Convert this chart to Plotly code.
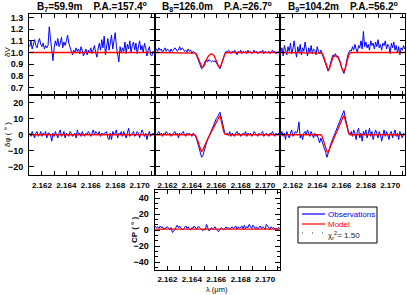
import plotly.graph_objects as go

wavelength = [
    2.1610, 2.1611, 2.1612, 2.1613, 2.1614, 2.1615, 2.1616, 2.1617, 2.1618, 2.1619,
    2.1620, 2.1621, 2.1622, 2.1623, 2.1624, 2.1625, 2.1626, 2.1627, 2.1628, 2.1629,
    2.1630, 2.1631, 2.1632, 2.1633, 2.1634, 2.1635, 2.1636, 2.1637, 2.1638, 2.1639,
    2.1640, 2.1641, 2.1642, 2.1643, 2.1644, 2.1645, 2.1646, 2.1647, 2.1648, 2.1649,
    2.1650, 2.1651, 2.1652, 2.1653, 2.1654, 2.1655, 2.1656, 2.1657, 2.1658, 2.1659,
    2.1660, 2.1661, 2.1662, 2.1663, 2.1664, 2.1665, 2.1666, 2.1667, 2.1668, 2.1669,
    2.1670, 2.1671, 2.1672, 2.1673, 2.1674, 2.1675, 2.1676, 2.1677, 2.1678, 2.1679,
    2.1680, 2.1681, 2.1682, 2.1683, 2.1684, 2.1685, 2.1686, 2.1687, 2.1688, 2.1689,
    2.1690, 2.1691, 2.1692, 2.1693, 2.1694, 2.1695, 2.1696, 2.1697, 2.1698, 2.1699,
    2.1700, 2.1701, 2.1702, 2.1703, 2.1704, 2.1705, 2.1706, 2.1707, 2.1708, 2.1709,
    2.1710, 2.1711, 2.1712,
]

baseline_titles = [
    "B<sub>7</sub>=59.9m\u00a0\u00a0\u00a0\u00a0P.A.=157.4<sup>o</sup>",
    "B<sub>8</sub>=126.0m\u00a0\u00a0\u00a0\u00a0P.A.=26.7<sup>o</sup>",
    "B<sub>9</sub>=104.2m\u00a0\u00a0\u00a0\u00a0P.A.=56.2<sup>o</sup>",
]

# Differential visibility - observations
dv_obs_b7 = [
    1.05, 1.10, 1.03, 1.08, 1.11, 1.06, 1.04, 1.09, 1.12, 1.07,
    1.05, 1.08, 1.03, 1.06, 1.04, 1.06, 1.22, 1.12, 1.00, 0.93,
    1.04, 1.10, 1.06, 1.12, 1.05, 1.08, 1.13, 1.04, 1.09, 1.06,
    1.10, 1.15, 1.08, 1.04, 1.01, 0.98, 1.02, 1.00, 1.04, 1.01,
    1.03, 0.99, 1.05, 1.02, 0.97, 1.01, 1.03, 0.98, 1.02, 1.00,
    1.04, 0.99, 1.02, 1.06, 1.00, 0.96, 1.03, 1.08, 1.02, 1.11,
    1.04, 1.14, 0.98, 1.08, 1.12, 1.02, 1.09, 1.15, 1.03, 1.10,
    1.17, 1.05, 1.00, 0.92, 1.05, 1.00, 1.04, 1.01, 1.09, 0.99,
    1.07, 1.03, 1.10, 1.00, 1.06, 1.09, 1.02, 1.08, 0.99, 1.05,
    1.10, 1.02, 1.06, 1.00, 1.08, 1.04, 0.97, 1.02, 1.05, 0.98,
    0.97, 1.01, 0.99,
]
dv_obs_b8 = [
    1.02, 1.03, 1.01, 1.04, 1.02, 1.03, 1.00, 1.02, 1.04, 1.01,
    1.03, 1.02, 1.00, 1.03, 1.01, 1.02, 1.04, 1.03, 1.01, 1.02,
    1.05, 1.02, 1.04, 1.03, 1.01, 1.02, 1.00, 1.03, 1.01, 1.02,
    0.99, 1.01, 1.00, 0.99, 0.97, 0.94, 0.91, 0.88, 0.86, 0.87,
    0.90, 0.93, 0.94, 0.92, 0.94, 0.93, 0.92, 0.93, 0.92, 0.93,
    0.91, 0.90, 0.88, 0.86, 0.89, 0.93, 0.96, 0.99, 1.01, 1.00,
    1.02, 1.01, 0.99, 1.01, 1.00, 1.02, 1.00, 0.98, 1.01, 1.00,
    1.02, 0.99, 1.01, 1.00, 1.01, 0.99, 1.02, 1.00, 1.01, 0.99,
    1.00, 1.02, 1.00, 1.01, 0.99, 1.00, 1.01, 1.00, 1.02, 0.99,
    1.01, 1.00, 1.00, 1.01, 0.99, 1.00, 1.02, 1.00, 1.01, 0.99,
    1.00, 1.01, 1.00,
]
dv_obs_b9 = [
    1.00, 1.04, 0.97, 1.06, 1.02, 0.98, 1.05, 1.01, 1.08, 0.99,
    1.03, 1.10, 1.02, 0.96, 1.05, 1.00, 1.07, 0.98, 1.04, 1.01,
    1.09, 1.02, 0.97, 1.04, 1.00, 1.06, 0.99, 1.03, 1.02, 0.98,
    1.05, 1.01, 0.99, 1.02, 0.99, 0.97, 0.94, 0.90, 0.86, 0.84,
    0.87, 0.92, 0.95, 0.98, 0.97, 0.99, 0.96, 0.97, 0.95, 0.92,
    0.87, 0.84, 0.82, 0.86, 0.92, 0.97, 1.00, 1.02, 1.01, 1.05,
    1.02, 1.07, 1.03, 1.00, 1.06, 1.04, 1.10, 1.03, 1.18, 1.05,
    1.09, 1.04, 1.07, 1.02, 1.10, 1.06, 1.08, 1.03, 1.09, 1.05,
    1.11, 1.04, 1.07, 1.02, 1.08, 1.06, 1.10, 1.03, 1.07, 1.05,
    0.99, 1.08, 1.04, 1.09, 1.02, 1.06, 1.00, 1.05, 0.98, 1.04,
    1.02, 1.06, 1.03,
]

# Differential visibility - model
dv_mod_b7 = [1.0] * 103
dv_mod_b8 = [
    1.0, 1.0, 1.0, 1.0, 1.0, 1.0, 1.0, 1.0, 1.0, 1.0,
    1.0, 1.0, 1.0, 1.0, 1.0, 1.0, 1.0, 1.0, 1.0, 1.0,
    1.0, 1.0, 1.0, 1.0, 1.0, 1.0, 1.0, 1.0, 1.0, 1.0,
    1.0, 1.0, 1.0, 0.995, 0.98, 0.955, 0.925, 0.897, 0.88, 0.875,
    0.885, 0.91, 0.94, 0.96, 0.975, 0.985, 0.99, 0.985, 0.975, 0.955,
    0.93, 0.90, 0.88, 0.875, 0.89, 0.925, 0.96, 0.985, 0.998, 1.0,
    1.0, 1.0, 1.0, 1.0, 1.0, 1.0, 1.0, 1.0, 1.0, 1.0,
    1.0, 1.0, 1.0, 1.0, 1.0, 1.0, 1.0, 1.0, 1.0, 1.0,
    1.0, 1.0, 1.0, 1.0, 1.0, 1.0, 1.0, 1.0, 1.0, 1.0,
    1.0, 1.0, 1.0, 1.0, 1.0, 1.0, 1.0, 1.0, 1.0, 1.0,
    1.0, 1.0, 1.0,
]
dv_mod_b9 = [
    1.0, 1.0, 1.0, 1.0, 1.0, 1.0, 1.0, 1.0, 1.0, 1.0,
    1.0, 1.0, 1.0, 1.0, 1.0, 1.0, 1.0, 1.0, 1.0, 1.0,
    1.0, 1.0, 1.0, 1.0, 1.0, 1.0, 1.0, 1.0, 1.0, 1.0,
    1.0, 1.0, 1.0, 1.0, 0.995, 0.975, 0.945, 0.91, 0.87, 0.85,
    0.86, 0.90, 0.94, 0.96, 0.97, 0.972, 0.97, 0.96, 0.94, 0.91,
    0.875, 0.848, 0.84, 0.86, 0.90, 0.945, 0.98, 0.997, 1.0, 1.0,
    1.0, 1.0, 1.0, 1.0, 1.0, 1.0, 1.0, 1.0, 1.0, 1.0,
    1.0, 1.0, 1.0, 1.0, 1.0, 1.0, 1.0, 1.0, 1.0, 1.0,
    1.0, 1.0, 1.0, 1.0, 1.0, 1.0, 1.0, 1.0, 1.0, 1.0,
    1.0, 1.0, 1.0, 1.0, 1.0, 1.0, 1.0, 1.0, 1.0, 1.0,
    1.0, 1.0, 1.0,
]

# Differential phase (deg) - observations
dphi_obs_b7 = [
    1, -1, 2, 0, -2, 1, 2, -1, 0, 2,
    -1, 1, 0, 2, -2, 1, 1, 0, -4, 1,
    -1, 2, 0, -2, 1, 3, -1, 0, 2, -2,
    1, 0, -1, 2, 1, -1, 0, 1, -2, 3,
    0, 1, -1, 2, 0, -1, 1, 0, 2, 1,
    -1, 1, 3, 0, 2, 1, 0, 2, -1, 1,
    0, 1, 1, 2, -2, -3, 1, -3, 2, 0,
    1, 3, -2, 1, 0, 2, -1, 2, 0, -2,
    1, 4, -1, 0, 1, 2, -1, 0, 2, 1,
    -2, 0, 3, 1, -1, 1, -3, 0, 2, -1,
    0, 1, 0,
]
dphi_obs_b8 = [
    1, 0, 1, 2, 0, 1, -1, 1, 0, 2,
    1, 0, 1, -1, 0, 1, 2, 0, 1, -2,
    1, 0, 1, 2, 0, -1, 1, 0, 1, 0,
    -1, 1, 0, -1, -3, -6, -9, -12, -14, -13,
    -10, -7, -5, -3, -1, 1, 3, 5, 7, 9,
    10, 11, 13, 14, 11, 7, 3, 1, 0, 1,
    0, 2, -1, 1, 0, -1, 1, 2, 0, 1,
    -1, 0, 1, 0, 2, -1, 1, 0, 1, -1,
    0, 2, 1, 0, -1, 1, 0, 1, 2, -1,
    0, 1, 0, -1, 1, 0, 2, 0, -1, 1,
    0, 1, 0,
]
dphi_obs_b9 = [
    0, 2, -1, 1, -3, 2, 0, -2, 1, 3,
    -1, 0, 2, 1, 3, 8, -2, 0, -3, 1,
    2, 0, 3, 1, -1, 2, 0, -2, 1, -1,
    0, -3, -5, -2, -4, -6, -8, -11, -14, -12,
    -9, -6, -4, -2, 0, 2, 4, 6, 8, 10,
    12, 13, 15, 11, 7, 3, 1, 0, 2, -1,
    3, 1, -3, 2, 4, -2, 1, -4, 2, 0,
    3, -2, 1, 4, -1, 2, -3, 0, 3, 1,
    -2, 2, 0, -4, 1, 3, -1, 2, 0, -3,
    1, 2, -2, 0, 3, -1, 1, -3, 2, 0,
    -2, 1, 0,
]

# Differential phase (deg) - model
dphi_mod_b7 = [0.0] * 103
dphi_mod_b8 = [
    0, 0, 0, 0, 0, 0, 0, 0, 0, 0,
    0, 0, 0, 0, 0, 0, 0, 0, 0, 0,
    0, 0, 0, 0, 0, 0, 0, 0, 0, 0,
    0, 0, 0, -0.5, -2, -4, -6.5, -9, -10.5, -9.5,
    -7.5, -5.5, -4, -2.5, -1, 0.5, 2, 3.5, 5, 6.5,
    8, 9.5, 11, 12, 9, 5, 2, 0.5, 0, 0,
    0, 0, 0, 0, 0, 0, 0, 0, 0, 0,
    0, 0, 0, 0, 0, 0, 0, 0, 0, 0,
    0, 0, 0, 0, 0, 0, 0, 0, 0, 0,
    0, 0, 0, 0, 0, 0, 0, 0, 0, 0,
    0, 0, 0,
]
dphi_mod_b9 = [
    0, 0, 0, 0, 0, 0, 0, 0, 0, 0,
    0, 0, 0, 0, 0, 0, 0, 0, 0, 0,
    0, 0, 0, 0, 0, 0, 0, 0, 0, 0,
    0, 0, 0, 0, -1, -3, -5.5, -8, -10.5, -11,
    -9, -7, -5, -3.5, -2, 0, 1.5, 3.5, 5, 7,
    8.5, 10.5, 12, 9, 5.5, 2.5, 0.5, 0, 0, 0,
    0, 0, 0, 0, 0, 0, 0, 0, 0, 0,
    0, 0, 0, 0, 0, 0, 0, 0, 0, 0,
    0, 0, 0, 0, 0, 0, 0, 0, 0, 0,
    0, 0, 0, 0, 0, 0, 0, 0, 0, 0,
    0, 0, 0,
]

# Closure phase (deg)
cp_obs = [
    5, 3, 4, 2, 5, 3, 4, 1, 2, 3,
    4, 2, 0, 3, -3, -2, 1, 4, 6, 3,
    5, 2, 0, 1, 3, 5, 2, 4, 1, 0,
    3, 2, 5, 3, 1, 4, 4, 2, 0, -1,
    1, 0, 7, 3, -1, 0, 3, 1, 2, 4,
    1, 0, -2, 1, 3, 2, 0, 1, 4, 2,
    3, 1, 2, 4, 2, 3, 5, 1, 4, 2,
    3, 5, 1, 6, 2, 4, 3, 7, 4, 2,
    6, 3, 2, 4, 1, 3, 5, 2, 4, 3,
    1, 7, 5, 3, 1, 4, 2, 3, 1, 2,
    0, 3, 2,
]
cp_mod = [1.0] * 103

legend_labels = ["Observations", "Model", "\u03c7<sub>r</sub><sup>2</sup>= 1.50"]

# ---------------- layout geometry (paper fractions) ----------------
W, H = 407, 295
def px_x(p):
    return p / W
def px_y(p):
    return 1 - p / H

col_edges = [(29, 154.5), (154.5, 280), (280, 405)]
row1 = (14, 94.5)
row2 = (94.5, 175)
row3 = (190, 270)

BLUE = "#0000ff"
RED = "#ff0000"
FONT = "Liberation Sans, Arial, sans-serif"
XRANGE = [2.16094, 2.17122]

fig = go.Figure()

panels = [
    (1, 0, row1, dv_obs_b7, dv_mod_b7),
    (2, 1, row1, dv_obs_b8, dv_mod_b8),
    (3, 2, row1, dv_obs_b9, dv_mod_b9),
    (4, 0, row2, dphi_obs_b7, dphi_mod_b7),
    (5, 1, row2, dphi_obs_b8, dphi_mod_b8),
    (6, 2, row2, dphi_obs_b9, dphi_mod_b9),
    (7, 1, row3, cp_obs, cp_mod),
]

for idx, col, row, obs, mod in panels:
    xa = "x" if idx == 1 else f"x{idx}"
    ya = "y" if idx == 1 else f"y{idx}"
    fig.add_trace(go.Scatter(x=wavelength, y=obs, mode="lines", xaxis=xa, yaxis=ya,
                             line=dict(color=BLUE, width=1), name=legend_labels[0],
                             showlegend=False, hoverinfo="skip"))
    fig.add_trace(go.Scatter(x=wavelength, y=mod, mode="lines", xaxis=xa, yaxis=ya,
                             line=dict(color=RED, width=1.3), name=legend_labels[1],
                             showlegend=False, hoverinfo="skip"))

layout = dict(
    width=W, height=H, autosize=False,
    margin=dict(l=0, r=0, t=0, b=0),
    paper_bgcolor="white", plot_bgcolor="white",
    font=dict(family=FONT, size=9, color="black"),
    showlegend=False,
)

xtickfont = dict(family=FONT, size=8, color="black", weight="bold")
ytickfont = dict(family=FONT, size=9, color="black", weight="bold")

for idx, col, row, obs, mod in panels:
    xkey = "xaxis" if idx == 1 else f"xaxis{idx}"
    ykey = "yaxis" if idx == 1 else f"yaxis{idx}"
    xa_anchor = "y" if idx == 1 else f"y{idx}"
    ya_anchor = "x" if idx == 1 else f"x{idx}"
    x0, x1 = col_edges[col]
    y0, y1 = row
    show_x_labels = row is not row1
    layout[xkey] = dict(
        domain=[px_x(x0), px_x(x1)], anchor=xa_anchor, range=XRANGE,
        tick0=2.162, dtick=0.002, tickformat=".3f", tickangle=0,
        ticks="inside", ticklen=4, tickwidth=1, tickcolor="black",
        minor=dict(dtick=0.001, tick0=2.161, ticks="inside", ticklen=4, tickcolor="black"),
        showline=True, linecolor="black", linewidth=1, mirror="allticks",
        showgrid=False, zeroline=False, showticklabels=show_x_labels,
        tickfont=xtickfont, ticklabelstandoff=(1 if row is row3 else 2),
    )
    if row is row1:
        yr, dt, t0, fmt = [0.64, 1.33], 0.1, 0.7, ".1f"
        minor = None
    elif row is row2:
        yr, dt, t0, fmt = [-25, 25], 10, 0, "d"
        minor = None
    else:
        yr, dt, t0, fmt = [-50, 50], 20, 0, "d"
        minor = dict(dtick=20 / 3, tick0=0, ticks="inside", ticklen=3, tickcolor="black")
    yd = dict(
        domain=[px_y(y1), px_y(y0)], anchor=ya_anchor, range=yr,
        tick0=t0, dtick=dt, tickformat=fmt,
        ticks="inside", ticklen=5, tickwidth=1, tickcolor="black",
        showline=True, linecolor="black", linewidth=1, mirror="allticks",
        showgrid=False, zeroline=False, showticklabels=(col == 0 or row is row3),
        tickfont=ytickfont, ticklabelstandoff=3,
    )
    if minor:
        yd["minor"] = minor
    layout[ykey] = yd

# legend box drawn by hand (layout decoration)
shapes = [
    dict(type="rect", xref="paper", yref="paper", x0=px_x(298), x1=px_x(377),
         y0=px_y(243), y1=px_y(207), line=dict(color="black", width=1),
         fillcolor="white", layer="above"),
    dict(type="line", xref="paper", yref="paper", x0=px_x(302), x1=px_x(325),
         y0=px_y(214), y1=px_y(214), line=dict(color=BLUE, width=1.2), layer="above"),
    dict(type="line", xref="paper", yref="paper", x0=px_x(302), x1=px_x(325),
         y0=px_y(224), y1=px_y(224), line=dict(color=RED, width=1.2), layer="above"),
    dict(type="line", xref="paper", yref="paper", x0=px_x(302), x1=px_x(323),
         y0=px_y(233), y1=px_y(233), line=dict(color="#333333", width=1, dash="1px,9px"),
         layer="above"),
]
layout["shapes"] = shapes

fig.update_layout(**layout)

legend_y = [214, 224, 235]
legend_colors = [BLUE, RED, "#222222"]
for lab, ly, lc in zip(legend_labels, legend_y, legend_colors):
    fig.add_annotation(text=lab, xref="paper", yref="paper", x=px_x(326), y=px_y(ly),
                       xanchor="left", yanchor="middle", showarrow=False,
                       font=dict(family=FONT, size=8, color=lc))

# panel titles
for col, title in enumerate(baseline_titles):
    x0, x1 = col_edges[col]
    fig.add_annotation(text=title, xref="paper", yref="paper",
                       x=px_x((x0 + x1) / 2), y=px_y(7), xanchor="center", yanchor="middle",
                       showarrow=False, font=dict(family=FONT, size=10, color="black", weight="bold"))

# axis titles
fig.add_annotation(text="\u03b4V", xref="paper", yref="paper", x=px_x(7), y=px_y(52),
                   textangle=-90, showarrow=False, xanchor="center", yanchor="middle",
                   font=dict(family=FONT, size=8, color="black"))
fig.add_annotation(text="\u03b4\u03c6 ( \u00b0 )", xref="paper", yref="paper", x=px_x(7), y=px_y(135),
                   textangle=-90, showarrow=False, xanchor="center", yanchor="middle",
                   font=dict(family=FONT, size=8, color="black"))
fig.add_annotation(text="CP ( \u00b0 )", xref="paper", yref="paper", x=px_x(134), y=px_y(230),
                   textangle=-90, showarrow=False, xanchor="center", yanchor="middle",
                   font=dict(family=FONT, size=8, color="black", weight="bold"))
fig.add_annotation(text="\u03bb (\u03bcm)", xref="paper", yref="paper", x=px_x(217), y=0,
                   showarrow=False, xanchor="center", yanchor="bottom", yshift=-1,
                   font=dict(family=FONT, size=7.5, color="black"))

# the page body has a default 8px margin; remove it so the 407x295 figure fills the window
fig.write_html("out.html", config={"displayModeBar": False},
               post_script="document.body.style.margin='0px';")
